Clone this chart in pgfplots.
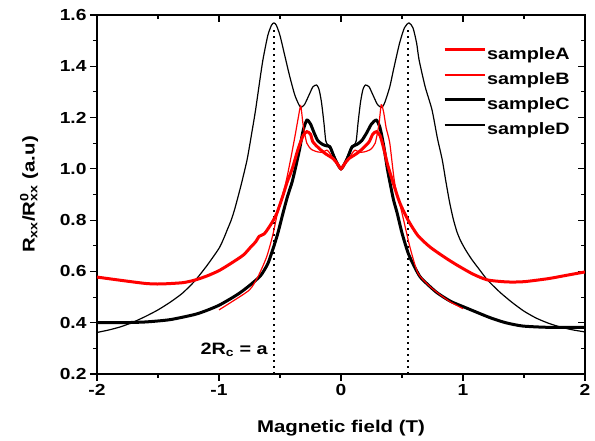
\documentclass[border=0pt]{standalone}
\usepackage{pgfplots}
\pgfplotsset{compat=1.18}
\usepackage{fontspec}
\setmainfont{Liberation Sans}[FakeStretch=1.2]
\definecolor{pred}{RGB}{255,0,0}
\pgfplotsset{
  common/.style={
    scale only axis, width=488pt, height=359pt,
    xmin=-2, xmax=2, ymin=0.2, ymax=1.6,
    xtick={-2,-1,0,1,2}, ytick={0.2,0.4,0.6,0.8,1.0,1.2,1.4,1.6},
    minor x tick num=1, minor y tick num=1,
    major tick length=7pt, minor tick length=4pt,
    every tick/.style={black, line width=1.1pt},
    axis line style={black, line width=1.1pt},
    /pgf/number format/assume math mode=true,
  }
}
\begin{document}
\begin{tikzpicture}
\path[use as bounding box] (-97pt,-67pt) rectangle (498pt,374pt);
% top/right inward ticks
\begin{axis}[common, tick align=inside, xtick pos=top, ytick pos=right,
  xticklabels={}, yticklabels={}]
\end{axis}
\begin{axis}[common, tick align=outside, xtick pos=bottom, ytick pos=left,
  ticklabel style={font=\fontsize{16}{18}\selectfont\bfseries},
  yticklabel style={/pgf/number format/.cd, fixed, fixed zerofill, precision=1},
  xlabel={Magnetic field (T)},
  ylabel={R\textsubscript{xx}/R\rlap{\textsuperscript{0}}\textsubscript{xx} (a.u)},
  label style={font=\fontsize{17}{20}\selectfont\bfseries},
  xlabel style={at={(axis description cs:0.5,-0.150)}, anchor=center},
  ylabel style={at={(axis description cs:-0.139,0.5)}, anchor=center},
  legend style={draw=none, fill=none, at={(rel axis cs:0.709,0.913)}, anchor=north west,
    font=\fontsize{16.5}{19}\selectfont\bfseries, inner sep=0pt, row sep=7pt,
    nodes={inner sep=1pt, text height=12pt, text depth=4pt}},
  legend cell align=left,
  legend image code/.code={\draw[#1] (0pt,5.5pt) -- (40pt,5.5pt);},
]
\addlegendimage{pred, line width=3pt}
\addlegendentry{sampleA}
\addlegendimage{pred, line width=1.2pt}
\addlegendentry{sampleB}
\addlegendimage{black, line width=3pt}
\addlegendentry{sampleC}
\addlegendimage{black, line width=1.2pt}
\addlegendentry{sampleD}

% dotted lines
\addplot[forget plot, black, line width=2pt, dash pattern=on 2pt off 4pt, line cap=butt] coordinates {(-0.55,0.2) (-0.55,1.55)};
\addplot[forget plot, black, line width=2pt, dash pattern=on 2pt off 4pt, line cap=butt] coordinates {(0.55,0.2) (0.55,1.55)};

% sampleD
\addplot[forget plot, black, line width=1.2pt, smooth, tension=0.4] coordinates {
(-2.0,0.362) (-1.9,0.372) (-1.8,0.385) (-1.7,0.403) (-1.6,0.425) (-1.5,0.45) (-1.4,0.48)
(-1.3,0.515) (-1.2,0.562) (-1.1,0.622) (-1.0,0.69) (-0.96,0.73) (-0.93,0.765) (-0.90,0.80)
(-0.87,0.845) (-0.82,0.935) (-0.77,1.035) (-0.735,1.13) (-0.70,1.23) (-0.67,1.33)
(-0.64,1.425) (-0.60,1.52) (-0.57,1.56)
(-0.55,1.569) (-0.53,1.56) (-0.50,1.52) (-0.46,1.44) (-0.42,1.36) (-0.38,1.29) (-0.35,1.255)
(-0.33,1.24) (-0.30,1.25) (-0.26,1.29) (-0.23,1.32) (-0.20,1.327) (-0.18,1.31) (-0.16,1.26)
(-0.14,1.18) (-0.125,1.11) (-0.11,1.095) (-0.09,1.09) (-0.07,1.07) (-0.045,1.04) (-0.02,1.01)
(0,1.0) (0.02,1.01) (0.045,1.04) (0.07,1.07) (0.09,1.09) (0.11,1.095) (0.125,1.11) (0.14,1.18)
(0.16,1.26) (0.18,1.31) (0.20,1.327) (0.23,1.32) (0.26,1.29) (0.30,1.25) (0.336,1.24)
(0.36,1.26) (0.40,1.32) (0.43,1.386) (0.48,1.49) (0.52,1.55) (0.557,1.569) (0.59,1.55)
(0.62,1.49) (0.64,1.425) (0.69,1.32) (0.746,1.23) (0.79,1.12) (0.83,1.035) (0.86,0.95)
(0.89,0.87) (0.92,0.805) (0.95,0.755) (0.98,0.72) (1.02,0.685) (1.07,0.648) (1.13,0.61)
(1.2,0.567) (1.3,0.52) (1.4,0.48) (1.5,0.445)
(1.6,0.418) (1.7,0.398) (1.8,0.383) (1.9,0.372) (2.0,0.364)};

% sampleC
\addplot[forget plot, black, line width=3pt, smooth, tension=0.4] coordinates {
(-2.0,0.400) (-1.8,0.400) (-1.6,0.403) (-1.4,0.412) (-1.2,0.432) (-1.1,0.448) (-1.0,0.468)
(-0.9,0.495) (-0.83,0.516) (-0.75,0.545) (-0.66,0.583) (-0.6,0.63) (-0.56,0.684) (-0.52,0.745)
(-0.475,0.828) (-0.44,0.89) (-0.40,0.95) (-0.37,1.01) (-0.34,1.075) (-0.31,1.15) (-0.28,1.19)
(-0.25,1.175) (-0.22,1.14) (-0.19,1.11) (-0.15,1.095) (-0.12,1.09) (-0.09,1.085) (-0.06,1.05)
(-0.03,1.02) (0,1.0) (0.03,1.02) (0.06,1.05) (0.09,1.085) (0.13,1.095) (0.17,1.11) (0.21,1.14)
(0.25,1.175) (0.29,1.19) (0.32,1.16) (0.35,1.09) (0.38,1.00) (0.40,0.95) (0.43,0.88)
(0.46,0.828) (0.50,0.75) (0.55,0.672) (0.60,0.62) (0.65,0.578) (0.72,0.545) (0.79,0.516)
(0.9,0.483) (1.03,0.457) (1.22,0.42) (1.35,0.40) (1.49,0.387) (1.7,0.382) (2.0,0.382)};

% sampleA
\addplot[forget plot, pred, line width=3pt, smooth, tension=0.4] coordinates {
(-2.0,0.578) (-1.8,0.565) (-1.6,0.553) (-1.48,0.551) (-1.3,0.556) (-1.2,0.566) (-1.1,0.582)
(-1.0,0.603) (-0.9,0.632) (-0.8,0.664) (-0.74,0.695) (-0.70,0.715) (-0.67,0.737) (-0.63,0.746)
(-0.60,0.765) (-0.56,0.795) (-0.525,0.828) (-0.48,0.89) (-0.44,0.95) (-0.40,1.0) (-0.35,1.08)
(-0.31,1.13) (-0.28,1.145) (-0.25,1.135) (-0.23,1.105) (-0.18,1.08) (-0.13,1.06) (-0.065,1.04)
(-0.03,1.02) (0,1.0) (0.03,1.02) (0.065,1.04) (0.13,1.06) (0.18,1.08) (0.23,1.105) (0.26,1.135)
(0.29,1.145) (0.32,1.13) (0.35,1.08) (0.38,1.02) (0.42,0.957) (0.48,0.87) (0.55,0.80)
(0.63,0.74) (0.73,0.695) (0.85,0.655) (0.95,0.625) (1.08,0.59) (1.2,0.567) (1.36,0.559)
(1.5,0.56) (1.7,0.572) (1.85,0.585) (2.0,0.598)};

% sampleB
\addplot[forget plot, pred, line width=1.2pt, smooth, tension=0.4] coordinates {
(-1.0,0.45) (-0.9,0.48) (-0.75,0.528) (-0.68,0.58) (-0.61,0.656) (-0.56,0.74) (-0.52,0.828)
(-0.46,0.93) (-0.42,1.02) (-0.38,1.12) (-0.35,1.20) (-0.33,1.245) (-0.31,1.17) (-0.28,1.10)
(-0.24,1.075) (-0.19,1.066) (-0.15,1.065) (-0.115,1.073) (-0.09,1.06) (-0.065,1.04)
(-0.03,1.02) (0,1.0) (0.03,1.02) (0.065,1.04) (0.09,1.06) (0.115,1.073) (0.15,1.065)
(0.19,1.066) (0.24,1.075) (0.28,1.10) (0.31,1.17) (0.33,1.25) (0.35,1.22) (0.37,1.16)
(0.40,1.10) (0.44,0.945) (0.50,0.828) (0.565,0.695) (0.63,0.594) (0.72,0.545) (0.81,0.51)
(0.9,0.48) (1.0,0.455)};

\node[anchor=east, inner sep=0pt, font=\fontsize{16.5}{19}\selectfont\bfseries] at (axis cs:-0.6,0.294) {2R\textsubscript{c} = a};
\end{axis}
\end{tikzpicture}
\end{document}
